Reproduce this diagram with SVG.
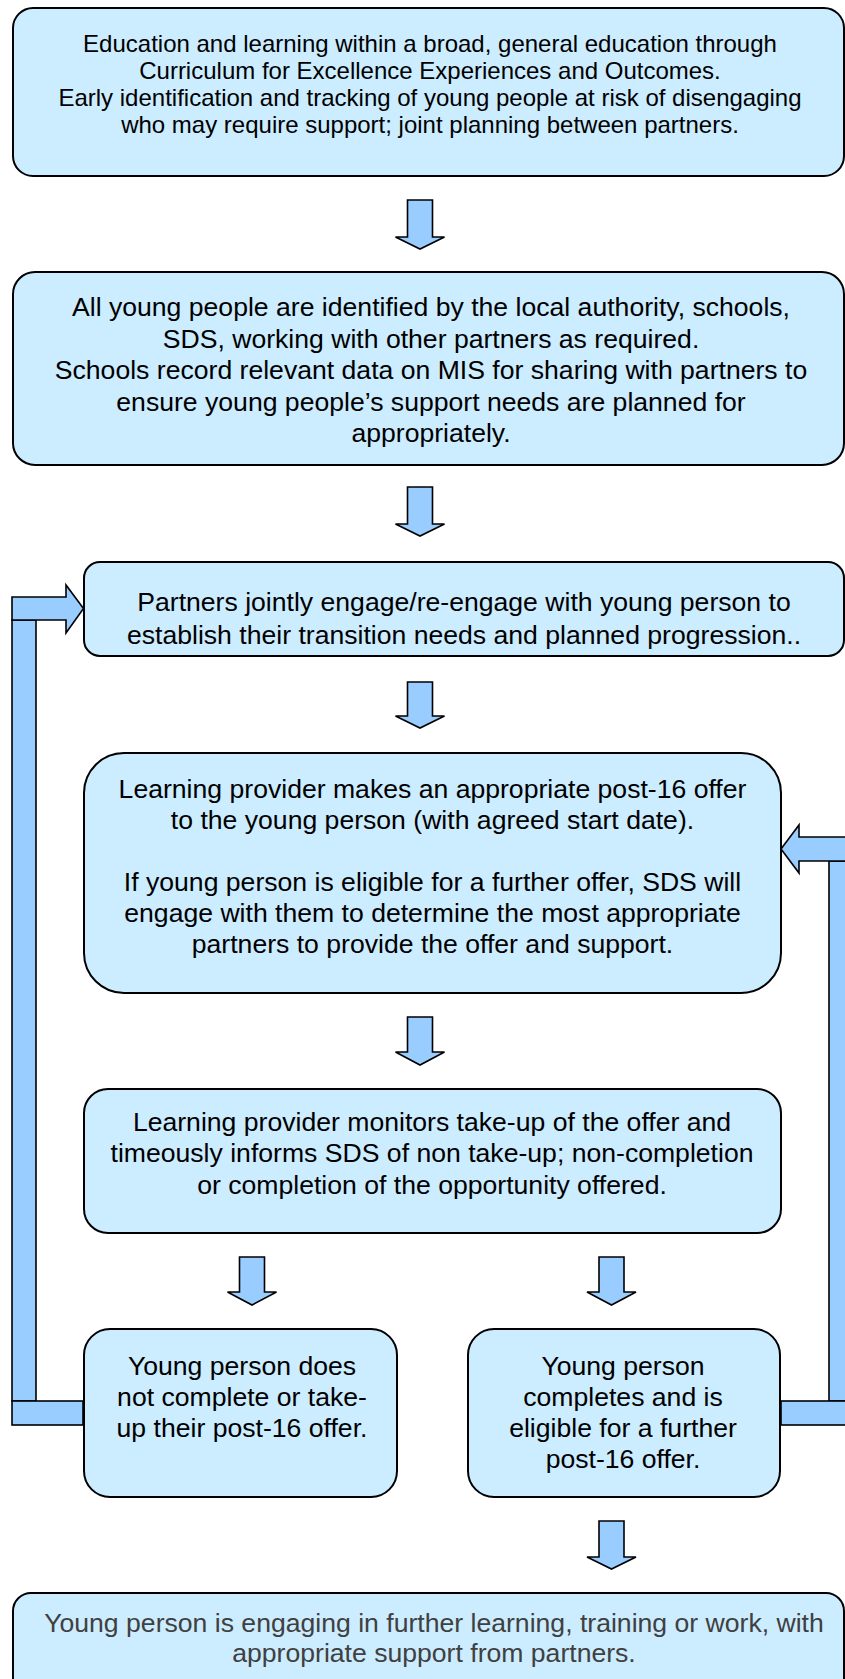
<svg xmlns="http://www.w3.org/2000/svg" width="845" height="1679" viewBox="0 0 845 1679">
<style>
.box{fill:#CCECFF;stroke:#000;stroke-width:2}
.arr{fill:#99CCFF;stroke:#000;stroke-width:1.6;stroke-linejoin:miter}
text{font-family:"Liberation Sans",Arial,sans-serif;text-anchor:middle;fill:#000}
.t1{font-size:24px}
.t2{font-size:26.6px}
.grey{fill:#404040}
</style>
<rect width="845" height="1679" fill="#fff"/>
<g id="connectors">
  <polygon class="arr" points="407.5,200 432.5,200 432.5,237 444.5,237 420,249 395.5,237 407.5,237"/>
  <polygon class="arr" points="407.5,487 432.5,487 432.5,524 444.5,524 420,536 395.5,524 407.5,524"/>
  <polygon class="arr" points="407.5,682 432.5,682 432.5,716 444.5,716 420,728 395.5,716 407.5,716"/>
  <polygon class="arr" points="407.5,1017 432.5,1017 432.5,1052 444.5,1052 420,1065 395.5,1052 407.5,1052"/>
  <polygon class="arr" points="239.5,1257 264.5,1257 264.5,1292 276.5,1292 252,1305 227.5,1292 239.5,1292"/>
  <polygon class="arr" points="599,1257 624,1257 624,1292 636,1292 611.5,1305 587,1292 599,1292"/>
  <polygon class="arr" points="599,1521 624,1521 624,1557 636,1557 611.5,1569 587,1557 599,1557"/>
  <!-- left loop -->
  <rect class="arr" x="12" y="620" width="24" height="781"/>
  <rect class="arr" x="12" y="1401" width="71" height="24"/>
  <polygon class="arr" points="12,597 66,597 66,585 83.5,608.5 66,633 66,620 12,620"/>
  <!-- right loop -->
  <rect class="arr" x="829" y="861" width="24" height="540"/>
  <rect class="arr" x="781" y="1401" width="72" height="24"/>
  <polygon class="arr" points="853,837 799,837 799,825 781,849 799,873 799,861 853,861"/>
</g>
<g id="n1">
  <rect class="box" x="13" y="8" width="831" height="168" rx="20"/>
  <text class="t1" x="430" y="52">Education and learning within a broad, general education through</text>
  <text class="t1" x="430" y="79">Curriculum for Excellence Experiences and Outcomes.</text>
  <text class="t1" x="430" y="106">Early identification and tracking of young people at risk of disengaging</text>
  <text class="t1" x="430" y="133">who may require support; joint planning between partners.</text>
</g>
<g id="n2">
  <rect class="box" x="13" y="272" width="831" height="193" rx="22"/>
  <text class="t2" x="431" y="316">All young people are identified by the local authority, schools,</text>
  <text class="t2" x="431" y="348">SDS, working with other partners as required.</text>
  <text class="t2" x="431" y="379">Schools record relevant data on MIS for sharing with partners to</text>
  <text class="t2" x="431" y="411">ensure young people’s support needs are planned for</text>
  <text class="t2" x="431" y="442">appropriately.</text>
</g>
<g id="n3">
  <rect class="box" x="84" y="562" width="760" height="94" rx="16"/>
  <text class="t2" x="464" y="611">Partners jointly engage/re-engage with young person to</text>
  <text class="t2" x="464" y="644">establish their transition needs and planned progression..</text>
</g>
<g id="n4">
  <rect class="box" x="84" y="753" width="697" height="240" rx="40"/>
  <text class="t2" x="432.5" y="798">Learning provider makes an appropriate post-16 offer</text>
  <text class="t2" x="432.5" y="829">to the young person (with agreed start date).</text>
  <text class="t2" x="432.5" y="891">If young person is eligible for a further offer, SDS will</text>
  <text class="t2" x="432.5" y="922">engage with them to determine the most appropriate</text>
  <text class="t2" x="432.5" y="953">partners to provide the offer and support.</text>
</g>
<g id="n5">
  <rect class="box" x="84" y="1089" width="697" height="144" rx="24"/>
  <text class="t2" x="432" y="1131">Learning provider monitors take-up of the offer and</text>
  <text class="t2" x="432" y="1162">timeously informs SDS of non take-up; non-completion</text>
  <text class="t2" x="432" y="1194">or completion of the opportunity offered.</text>
</g>
<g id="n6">
  <rect class="box" x="84" y="1329" width="313" height="168" rx="26"/>
  <text class="t2" x="242" y="1375">Young person does</text>
  <text class="t2" x="242" y="1406">not complete or take-</text>
  <text class="t2" x="242" y="1437">up their post-16 offer.</text>
</g>
<g id="n7">
  <rect class="box" x="468" y="1329" width="312" height="168" rx="26"/>
  <text class="t2" x="623" y="1375">Young person</text>
  <text class="t2" x="623" y="1406">completes and is</text>
  <text class="t2" x="623" y="1437">eligible for a further</text>
  <text class="t2" x="623" y="1468">post-16 offer.</text>
</g>
<g id="n8">
  <rect class="box" x="13" y="1593" width="831" height="120" rx="18"/>
  <text class="t2 grey" x="434" y="1632">Young person is engaging in further learning, training or work, with</text>
  <text class="t2 grey" x="434" y="1662">appropriate support from partners.</text>
</g>
</svg>
